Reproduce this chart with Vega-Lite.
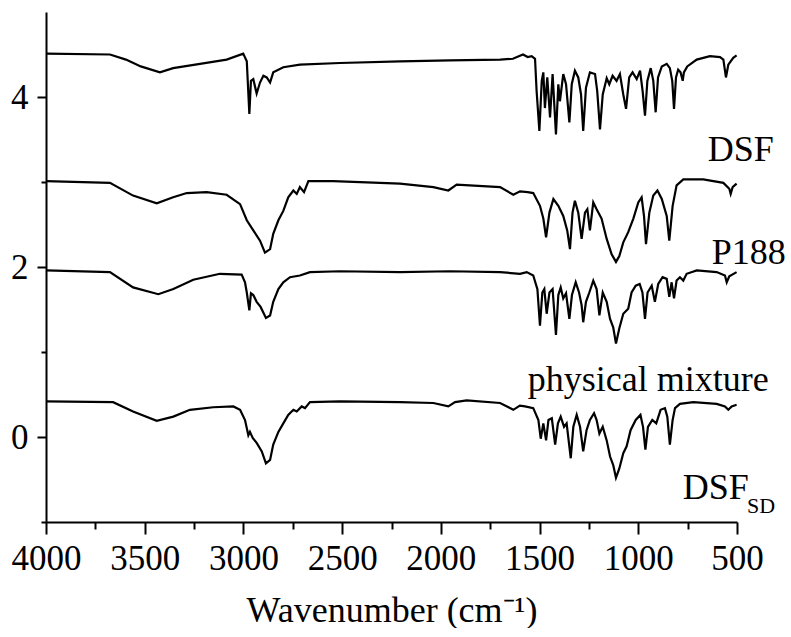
{
"$schema": "https://vega.github.io/schema/vega-lite/v6.json",
"width": 691,
"height": 510,
"padding": {"left": 5, "top": 12, "right": 0, "bottom": 0},
"background": "white",
"config": {"view": {"stroke": null}, "font": "Liberation Serif"},
"datasets": {
"spectra": [
{"s":"DSF","x":4000,"y":4.51},{"s":"DSF","x":3676,"y":4.50},{"s":"DSF","x":3595,"y":4.44},{"s":"DSF","x":3520,"y":4.36},{"s":"DSF","x":3423,"y":4.29},{"s":"DSF","x":3356,"y":4.34},{"s":"DSF","x":3220,"y":4.39},{"s":"DSF","x":3085,"y":4.44},{"s":"DSF","x":3001,"y":4.51},{"s":"DSF","x":2983,"y":4.42},{"s":"DSF","x":2970,"y":3.80},{"s":"DSF","x":2962,"y":4.19},{"s":"DSF","x":2950,"y":4.21},{"s":"DSF","x":2933,"y":4.04},{"s":"DSF","x":2916,"y":4.17},{"s":"DSF","x":2899,"y":4.25},{"s":"DSF","x":2882,"y":4.23},{"s":"DSF","x":2865,"y":4.17},{"s":"DSF","x":2849,"y":4.29},{"s":"DSF","x":2798,"y":4.35},{"s":"DSF","x":2714,"y":4.38},{"s":"DSF","x":2511,"y":4.40},{"s":"DSF","x":2207,"y":4.42},{"s":"DSF","x":1954,"y":4.43},{"s":"DSF","x":1700,"y":4.44},{"s":"DSF","x":1635,"y":4.45},{"s":"DSF","x":1584,"y":4.50},{"s":"DSF","x":1560,"y":4.47},{"s":"DSF","x":1540,"y":4.48},{"s":"DSF","x":1523,"y":4.45},{"s":"DSF","x":1515,"y":4.07},{"s":"DSF","x":1501,"y":3.60},{"s":"DSF","x":1489,"y":4.19},{"s":"DSF","x":1481,"y":4.29},{"s":"DSF","x":1473,"y":3.87},{"s":"DSF","x":1461,"y":4.23},{"s":"DSF","x":1447,"y":3.76},{"s":"DSF","x":1434,"y":4.27},{"s":"DSF","x":1417,"y":3.56},{"s":"DSF","x":1405,"y":4.15},{"s":"DSF","x":1397,"y":3.95},{"s":"DSF","x":1380,"y":4.27},{"s":"DSF","x":1366,"y":4.15},{"s":"DSF","x":1349,"y":3.70},{"s":"DSF","x":1337,"y":4.15},{"s":"DSF","x":1321,"y":4.31},{"s":"DSF","x":1304,"y":4.23},{"s":"DSF","x":1290,"y":4.03},{"s":"DSF","x":1279,"y":3.60},{"s":"DSF","x":1265,"y":4.11},{"s":"DSF","x":1245,"y":4.29},{"s":"DSF","x":1219,"y":4.27},{"s":"DSF","x":1208,"y":4.07},{"s":"DSF","x":1194,"y":3.62},{"s":"DSF","x":1180,"y":4.03},{"s":"DSF","x":1160,"y":4.22},{"s":"DSF","x":1147,"y":4.15},{"s":"DSF","x":1130,"y":4.25},{"s":"DSF","x":1110,"y":4.19},{"s":"DSF","x":1093,"y":4.27},{"s":"DSF","x":1076,"y":4.03},{"s":"DSF","x":1062,"y":3.86},{"s":"DSF","x":1046,"y":4.23},{"s":"DSF","x":1029,"y":4.29},{"s":"DSF","x":1008,"y":4.21},{"s":"DSF","x":991,"y":4.31},{"s":"DSF","x":978,"y":4.07},{"s":"DSF","x":966,"y":3.78},{"s":"DSF","x":954,"y":4.19},{"s":"DSF","x":937,"y":4.34},{"s":"DSF","x":924,"y":4.19},{"s":"DSF","x":912,"y":3.82},{"s":"DSF","x":900,"y":4.23},{"s":"DSF","x":881,"y":4.36},{"s":"DSF","x":856,"y":4.39},{"s":"DSF","x":840,"y":4.34},{"s":"DSF","x":828,"y":4.19},{"s":"DSF","x":819,"y":3.86},{"s":"DSF","x":809,"y":4.23},{"s":"DSF","x":798,"y":4.32},{"s":"DSF","x":786,"y":4.29},{"s":"DSF","x":775,"y":4.19},{"s":"DSF","x":769,"y":4.29},{"s":"DSF","x":752,"y":4.36},{"s":"DSF","x":704,"y":4.44},{"s":"DSF","x":637,"y":4.48},{"s":"DSF","x":586,"y":4.47},{"s":"DSF","x":569,"y":4.44},{"s":"DSF","x":556,"y":4.23},{"s":"DSF","x":544,"y":4.38},{"s":"DSF","x":519,"y":4.46},{"s":"DSF","x":502,"y":4.49},
{"s":"P188","x":4000,"y":3.01},{"s":"P188","x":3676,"y":2.99},{"s":"P188","x":3559,"y":2.84},{"s":"P188","x":3439,"y":2.75},{"s":"P188","x":3356,"y":2.82},{"s":"P188","x":3287,"y":2.87},{"s":"P188","x":3186,"y":2.88},{"s":"P188","x":3085,"y":2.85},{"s":"P188","x":3017,"y":2.74},{"s":"P188","x":2983,"y":2.55},{"s":"P188","x":2950,"y":2.43},{"s":"P188","x":2916,"y":2.31},{"s":"P188","x":2891,"y":2.17},{"s":"P188","x":2865,"y":2.21},{"s":"P188","x":2849,"y":2.39},{"s":"P188","x":2823,"y":2.55},{"s":"P188","x":2798,"y":2.66},{"s":"P188","x":2773,"y":2.82},{"s":"P188","x":2747,"y":2.90},{"s":"P188","x":2730,"y":2.86},{"s":"P188","x":2714,"y":2.94},{"s":"P188","x":2693,"y":2.88},{"s":"P188","x":2671,"y":3.01},{"s":"P188","x":2545,"y":3.01},{"s":"P188","x":2207,"y":2.98},{"s":"P188","x":2038,"y":2.94},{"s":"P188","x":1962,"y":2.90},{"s":"P188","x":1920,"y":2.97},{"s":"P188","x":1700,"y":2.94},{"s":"P188","x":1633,"y":2.85},{"s":"P188","x":1599,"y":2.89},{"s":"P188","x":1560,"y":2.88},{"s":"P188","x":1532,"y":2.87},{"s":"P188","x":1498,"y":2.72},{"s":"P188","x":1481,"y":2.57},{"s":"P188","x":1467,"y":2.35},{"s":"P188","x":1450,"y":2.64},{"s":"P188","x":1430,"y":2.80},{"s":"P188","x":1405,"y":2.72},{"s":"P188","x":1380,"y":2.60},{"s":"P188","x":1360,"y":2.43},{"s":"P188","x":1346,"y":2.21},{"s":"P188","x":1333,"y":2.64},{"s":"P188","x":1321,"y":2.78},{"s":"P188","x":1304,"y":2.64},{"s":"P188","x":1287,"y":2.33},{"s":"P188","x":1270,"y":2.64},{"s":"P188","x":1258,"y":2.68},{"s":"P188","x":1245,"y":2.43},{"s":"P188","x":1228,"y":2.76},{"s":"P188","x":1211,"y":2.68},{"s":"P188","x":1186,"y":2.57},{"s":"P188","x":1160,"y":2.33},{"s":"P188","x":1135,"y":2.15},{"s":"P188","x":1113,"y":2.06},{"s":"P188","x":1096,"y":2.13},{"s":"P188","x":1076,"y":2.29},{"s":"P188","x":1051,"y":2.41},{"s":"P188","x":1025,"y":2.57},{"s":"P188","x":1000,"y":2.76},{"s":"P188","x":983,"y":2.82},{"s":"P188","x":971,"y":2.60},{"s":"P188","x":961,"y":2.27},{"s":"P188","x":944,"y":2.64},{"s":"P188","x":924,"y":2.84},{"s":"P188","x":903,"y":2.90},{"s":"P188","x":881,"y":2.80},{"s":"P188","x":856,"y":2.60},{"s":"P188","x":843,"y":2.31},{"s":"P188","x":826,"y":2.72},{"s":"P188","x":806,"y":2.96},{"s":"P188","x":772,"y":3.03},{"s":"P188","x":671,"y":3.03},{"s":"P188","x":569,"y":2.99},{"s":"P188","x":539,"y":2.92},{"s":"P188","x":532,"y":2.86},{"s":"P188","x":522,"y":2.94},{"s":"P188","x":502,"y":2.98},
{"s":"PM","x":4000,"y":1.96},{"s":"PM","x":3676,"y":1.94},{"s":"PM","x":3559,"y":1.76},{"s":"PM","x":3431,"y":1.68},{"s":"PM","x":3355,"y":1.74},{"s":"PM","x":3254,"y":1.85},{"s":"PM","x":3119,"y":1.92},{"s":"PM","x":3009,"y":1.91},{"s":"PM","x":2992,"y":1.82},{"s":"PM","x":2983,"y":1.70},{"s":"PM","x":2970,"y":1.49},{"s":"PM","x":2962,"y":1.69},{"s":"PM","x":2950,"y":1.67},{"s":"PM","x":2933,"y":1.59},{"s":"PM","x":2913,"y":1.53},{"s":"PM","x":2886,"y":1.40},{"s":"PM","x":2865,"y":1.43},{"s":"PM","x":2849,"y":1.59},{"s":"PM","x":2823,"y":1.74},{"s":"PM","x":2798,"y":1.82},{"s":"PM","x":2764,"y":1.88},{"s":"PM","x":2714,"y":1.90},{"s":"PM","x":2663,"y":1.94},{"s":"PM","x":2511,"y":1.95},{"s":"PM","x":2207,"y":1.94},{"s":"PM","x":1954,"y":1.95},{"s":"PM","x":1700,"y":1.94},{"s":"PM","x":1599,"y":1.92},{"s":"PM","x":1565,"y":1.94},{"s":"PM","x":1532,"y":1.90},{"s":"PM","x":1511,"y":1.74},{"s":"PM","x":1498,"y":1.31},{"s":"PM","x":1486,"y":1.70},{"s":"PM","x":1476,"y":1.74},{"s":"PM","x":1464,"y":1.45},{"s":"PM","x":1450,"y":1.70},{"s":"PM","x":1434,"y":1.74},{"s":"PM","x":1417,"y":1.20},{"s":"PM","x":1405,"y":1.67},{"s":"PM","x":1393,"y":1.76},{"s":"PM","x":1380,"y":1.63},{"s":"PM","x":1366,"y":1.69},{"s":"PM","x":1349,"y":1.39},{"s":"PM","x":1336,"y":1.67},{"s":"PM","x":1317,"y":1.82},{"s":"PM","x":1300,"y":1.70},{"s":"PM","x":1287,"y":1.55},{"s":"PM","x":1279,"y":1.35},{"s":"PM","x":1265,"y":1.59},{"s":"PM","x":1248,"y":1.70},{"s":"PM","x":1228,"y":1.84},{"s":"PM","x":1211,"y":1.74},{"s":"PM","x":1197,"y":1.43},{"s":"PM","x":1180,"y":1.70},{"s":"PM","x":1160,"y":1.59},{"s":"PM","x":1143,"y":1.39},{"s":"PM","x":1127,"y":1.29},{"s":"PM","x":1113,"y":1.10},{"s":"PM","x":1096,"y":1.28},{"s":"PM","x":1076,"y":1.45},{"s":"PM","x":1051,"y":1.51},{"s":"PM","x":1034,"y":1.70},{"s":"PM","x":1013,"y":1.78},{"s":"PM","x":993,"y":1.80},{"s":"PM","x":979,"y":1.70},{"s":"PM","x":966,"y":1.39},{"s":"PM","x":953,"y":1.70},{"s":"PM","x":932,"y":1.78},{"s":"PM","x":916,"y":1.59},{"s":"PM","x":899,"y":1.80},{"s":"PM","x":877,"y":1.88},{"s":"PM","x":856,"y":1.86},{"s":"PM","x":843,"y":1.65},{"s":"PM","x":831,"y":1.82},{"s":"PM","x":819,"y":1.63},{"s":"PM","x":806,"y":1.84},{"s":"PM","x":789,"y":1.88},{"s":"PM","x":772,"y":1.84},{"s":"PM","x":755,"y":1.92},{"s":"PM","x":704,"y":1.96},{"s":"PM","x":603,"y":1.94},{"s":"PM","x":561,"y":1.90},{"s":"PM","x":552,"y":1.82},{"s":"PM","x":539,"y":1.89},{"s":"PM","x":502,"y":1.94},
{"s":"SD","x":4000,"y":0.42},{"s":"SD","x":3660,"y":0.41},{"s":"SD","x":3559,"y":0.30},{"s":"SD","x":3439,"y":0.19},{"s":"SD","x":3355,"y":0.24},{"s":"SD","x":3271,"y":0.32},{"s":"SD","x":3153,"y":0.35},{"s":"SD","x":3051,"y":0.36},{"s":"SD","x":3017,"y":0.32},{"s":"SD","x":2992,"y":0.20},{"s":"SD","x":2975,"y":0.02},{"s":"SD","x":2967,"y":0.06},{"s":"SD","x":2953,"y":-0.01},{"s":"SD","x":2933,"y":-0.07},{"s":"SD","x":2907,"y":-0.17},{"s":"SD","x":2886,"y":-0.31},{"s":"SD","x":2865,"y":-0.27},{"s":"SD","x":2849,"y":-0.09},{"s":"SD","x":2823,"y":0.06},{"s":"SD","x":2798,"y":0.16},{"s":"SD","x":2773,"y":0.26},{"s":"SD","x":2747,"y":0.32},{"s":"SD","x":2730,"y":0.30},{"s":"SD","x":2705,"y":0.36},{"s":"SD","x":2688,"y":0.34},{"s":"SD","x":2663,"y":0.41},{"s":"SD","x":2511,"y":0.42},{"s":"SD","x":2207,"y":0.41},{"s":"SD","x":2038,"y":0.40},{"s":"SD","x":1962,"y":0.36},{"s":"SD","x":1928,"y":0.41},{"s":"SD","x":1869,"y":0.43},{"s":"SD","x":1700,"y":0.40},{"s":"SD","x":1633,"y":0.32},{"s":"SD","x":1600,"y":0.37},{"s":"SD","x":1574,"y":0.36},{"s":"SD","x":1532,"y":0.34},{"s":"SD","x":1506,"y":0.20},{"s":"SD","x":1494,"y":-0.02},{"s":"SD","x":1481,"y":0.16},{"s":"SD","x":1467,"y":-0.04},{"s":"SD","x":1455,"y":0.20},{"s":"SD","x":1438,"y":0.22},{"s":"SD","x":1421,"y":-0.09},{"s":"SD","x":1407,"y":0.16},{"s":"SD","x":1393,"y":0.24},{"s":"SD","x":1376,"y":0.12},{"s":"SD","x":1363,"y":0.16},{"s":"SD","x":1342,"y":-0.25},{"s":"SD","x":1329,"y":0.12},{"s":"SD","x":1312,"y":0.26},{"s":"SD","x":1295,"y":0.12},{"s":"SD","x":1279,"y":-0.17},{"s":"SD","x":1262,"y":0.08},{"s":"SD","x":1245,"y":0.20},{"s":"SD","x":1224,"y":0.28},{"s":"SD","x":1211,"y":0.20},{"s":"SD","x":1197,"y":0.04},{"s":"SD","x":1180,"y":0.12},{"s":"SD","x":1160,"y":-0.04},{"s":"SD","x":1143,"y":-0.23},{"s":"SD","x":1127,"y":-0.33},{"s":"SD","x":1113,"y":-0.48},{"s":"SD","x":1096,"y":-0.37},{"s":"SD","x":1076,"y":-0.19},{"s":"SD","x":1059,"y":-0.11},{"s":"SD","x":1039,"y":0.08},{"s":"SD","x":1013,"y":0.20},{"s":"SD","x":989,"y":0.26},{"s":"SD","x":976,"y":0.12},{"s":"SD","x":964,"y":-0.15},{"s":"SD","x":951,"y":0.12},{"s":"SD","x":929,"y":0.20},{"s":"SD","x":909,"y":0.16},{"s":"SD","x":887,"y":0.32},{"s":"SD","x":865,"y":0.34},{"s":"SD","x":853,"y":0.24},{"s":"SD","x":840,"y":-0.09},{"s":"SD","x":826,"y":0.20},{"s":"SD","x":814,"y":0.34},{"s":"SD","x":789,"y":0.39},{"s":"SD","x":721,"y":0.41},{"s":"SD","x":603,"y":0.39},{"s":"SD","x":561,"y":0.36},{"s":"SD","x":544,"y":0.32},{"s":"SD","x":527,"y":0.36},{"s":"SD","x":502,"y":0.38}
],
"labels": [
{"t":"DSF","x":648,"y":3.25},
{"t":"P188","x":628,"y":2.04},
{"t":"physical mixture","x":1560,"y":0.54},
{"t":"DSF","x":775,"y":-0.73}
],
"subs": [
{"t":"SD","x":449,"y":-0.89}
]
},
"encoding": {
"x": {"field": "x", "type": "quantitative",
 "scale": {"domain": [500, 4000], "reverse": true, "nice": false, "zero": false},
 "axis": {"title": "Wavenumber (cm⁻¹)", "values": [4000,3750,3500,3250,3000,2750,2500,2250,2000,1750,1500,1250,1000,750,500],
  "format": "d", "labelExpr": "datum.value % 500 === 0 ? datum.label : ''",
  "grid": false, "domainColor": "black", "domainWidth": 2, "tickColor": "black", "tickWidth": 2,
  "tickSize": {"condition": {"test": "datum.value % 500 === 0", "value": 12}, "value": 7},
  "labelFont": "Liberation Serif", "labelFontSize": 35, "labelColor": "black", "labelPadding": 7,
  "labelFlush": false, "labelOverlap": false, "labelBound": false,
  "titleFont": "Liberation Serif", "titleFontSize": 36, "titleFontWeight": "normal", "titleColor": "black", "titlePadding": 17}},
"y": {"field": "y", "type": "quantitative",
 "scale": {"domain": [-1, 5], "nice": false, "zero": false},
 "axis": {"title": null, "values": [-1,0,1,2,3,4],
  "labelExpr": "datum.value % 2 === 0 ? datum.label : ''",
  "grid": false, "domainColor": "black", "domainWidth": 2, "tickColor": "black", "tickWidth": 2,
  "tickSize": {"condition": {"test": "datum.value % 2 === 0", "value": 9}, "value": 5},
  "labelFont": "Liberation Serif", "labelFontSize": 35, "labelColor": "black", "labelPadding": 9,
  "minExtent": 41, "maxExtent": 41}}
},
"layer": [
{"data": {"name": "spectra"}, "mark": {"type": "line", "color": "black", "strokeWidth": 2.2}, "encoding": {"detail": {"field": "s"}}},
{"data": {"name": "labels"}, "mark": {"type": "text", "align": "left", "baseline": "alphabetic", "font": "Liberation Serif", "fontSize": 36, "color": "black"}, "encoding": {"text": {"field": "t"}}},
{"data": {"name": "subs"}, "mark": {"type": "text", "align": "left", "baseline": "alphabetic", "font": "Liberation Serif", "fontSize": 22, "color": "black"}, "encoding": {"text": {"field": "t"}}}
]
}
